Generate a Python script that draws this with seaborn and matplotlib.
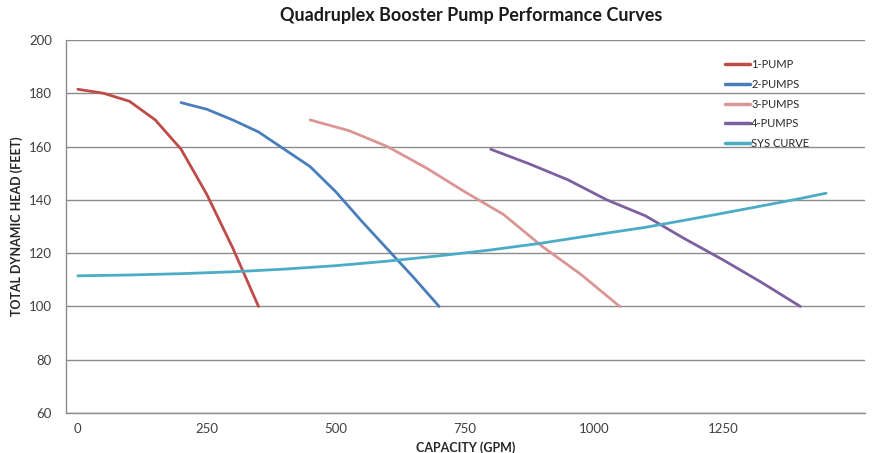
import pandas as pd
import matplotlib
matplotlib.use("Agg")
import matplotlib.pyplot as plt
import seaborn as sns

# values
pump1_gpm = [0, 50, 100, 150, 200, 250, 300, 350]
pump1_head = [181.5, 180, 177, 170, 159, 142, 122, 100]

pump2_gpm = [200, 250, 300, 350, 400, 450, 500, 550, 600, 650, 700]
pump2_head = [176.5, 174, 170, 165.5, 159, 152.5, 143, 132, 121.5, 111, 100]

pump3_gpm = [450, 525, 600, 675, 750, 825, 900, 975, 1050]
pump3_head = [170, 166, 160, 152, 143, 134.5, 122.5, 112, 100]

pump4_gpm = [800, 875, 950, 1025, 1100, 1175, 1250, 1325, 1400]
pump4_head = [159, 153.5, 147.5, 140, 134, 125.5, 117.5, 109, 100]

sys_gpm = [0, 100, 200, 300, 400, 500, 600, 700, 800, 900, 1000, 1100, 1200, 1300, 1400, 1450]
sys_head = [111.5, 111.8, 112.3, 113, 114, 115.3, 117, 119, 121.2, 123.8, 126.8, 129.7, 133.2, 136.8, 140.5, 142.5]

series_names = ["1-PUMP", "2-PUMPS", "3-PUMPS", "4-PUMPS", "SYS CURVE"]
series_colors = ["#BE4B48", "#4A7EBB", "#D99694", "#7D5FA0", "#4BACC6"]

frames = []
for name, xs, ys in zip(series_names,
                        [pump1_gpm, pump2_gpm, pump3_gpm, pump4_gpm, sys_gpm],
                        [pump1_head, pump2_head, pump3_head, pump4_head, sys_head]):
    frames.append(pd.DataFrame({"gpm": xs, "head": ys, "curve": name}))
df = pd.concat(frames, ignore_index=True)

sns.set_style("white")
plt.rcParams["font.family"] = ["Lato", "DejaVu Sans"]

fig = plt.figure(figsize=(8.73, 4.53), dpi=100)
ax = fig.add_axes([0.0756, 0.0883, 0.915, 0.8234])

sns.lineplot(data=df, x="gpm", y="head", hue="curve", hue_order=series_names,
             palette=dict(zip(series_names, series_colors)), sort=False,
             estimator=None, linewidth=2.0, ax=ax)

ax.set_xlim(-23, 1525)
ax.set_ylim(60, 200)
ax.set_yticks(range(60, 201, 20))
ax.set_xticks([0, 250, 500, 750, 1000, 1250])
ax.tick_params(axis="both", labelsize=9.5, colors="#404040", length=0)
ax.tick_params(axis="y", pad=10)
ax.tick_params(axis="x", pad=7)
ax.grid(axis="y", color="#8C8C8C", linewidth=1.0)
ax.set_axisbelow(True)

for side in ["top", "right"]:
    ax.spines[side].set_visible(False)
for side in ["left", "bottom"]:
    ax.spines[side].set_color("#8C8C8C")
    ax.spines[side].set_linewidth(1.0)

ax.set_xlabel("CAPACITY (GPM)", fontsize=9, fontweight="bold", color="#262626", labelpad=5)
ax.set_ylabel("TOTAL DYNAMIC HEAD (FEET)", fontsize=9, fontweight="bold", color="#262626", labelpad=4)
fig.suptitle("Quadruplex Booster Pump Performance Curves", fontsize=13, fontweight="bold",
             color="#1a1a1a", x=0.54, y=0.985)

leg = ax.legend(loc="upper left", bbox_to_anchor=(0.812, 0.975), frameon=False, fontsize=8,
                handlelength=2.3, handletextpad=0.1, labelspacing=0.78)
for h in leg.get_lines():
    h.set_linewidth(2.5)

fig.savefig("out.png", dpi=100)
